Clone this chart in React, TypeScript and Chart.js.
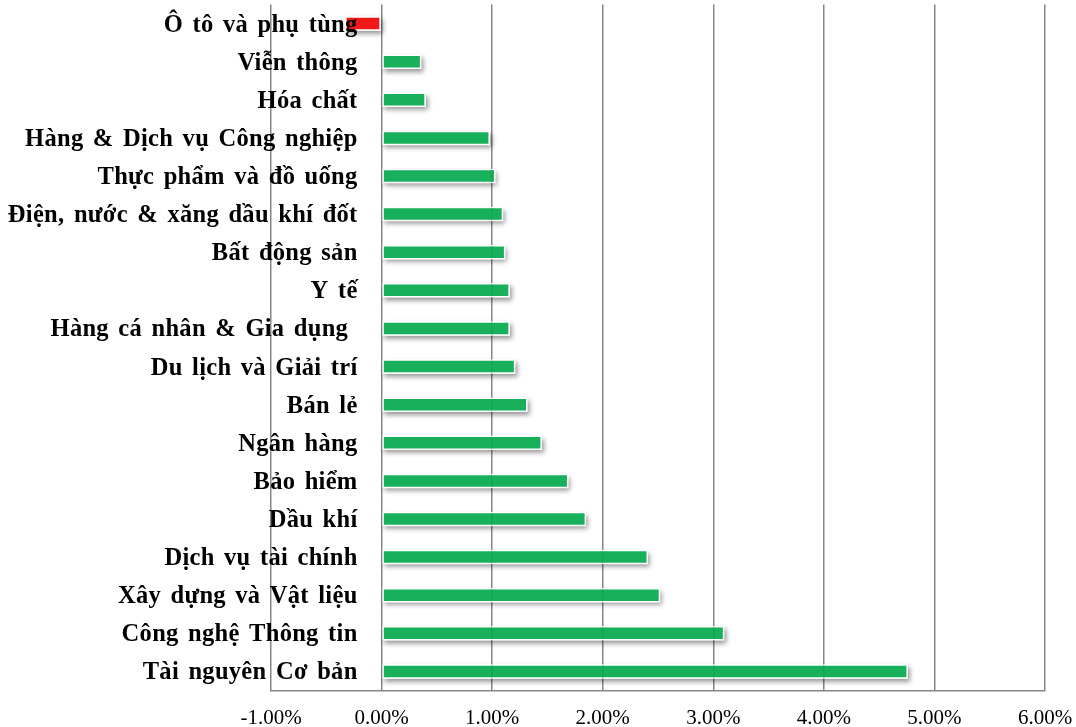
import React, { useEffect, useRef } from 'react';
import { Chart, registerables } from 'chart.js';

Chart.register(...registerables);

const categories: string[] = [
  'Ô tô và phụ tùng',
  'Viễn thông',
  'Hóa chất',
  'Hàng & Dịch vụ Công nghiệp',
  'Thực phẩm và đồ uống',
  'Điện, nước & xăng dầu khí đốt',
  'Bất động sản',
  'Y tế',
  'Hàng cá nhân & Gia dụng ',
  'Du lịch và Giải trí',
  'Bán lẻ',
  'Ngân hàng',
  'Bảo hiểm',
  'Dầu khí',
  'Dịch vụ tài chính',
  'Xây dựng và Vật liệu',
  'Công nghệ Thông tin',
  'Tài nguyên Cơ bản',
];

const changes: number[] = [
  -0.33, 0.36, 0.4, 0.98, 1.03, 1.1, 1.12, 1.16, 1.16, 1.21, 1.32, 1.45, 1.69, 1.85, 2.41, 2.52, 3.1, 4.76,
];

const xTickValues: number[] = [-1, 0, 1, 2, 3, 4, 5, 6];
const xTickLabels: string[] = ['-1.00%', '0.00%', '1.00%', '2.00%', '3.00%', '4.00%', '5.00%', '6.00%'];

const GREEN = 'rgba(8, 170, 80, 0.93)';
const RED = 'rgba(240, 12, 12, 0.95)';
const GRID = '#868686';
const SERIF = '"Liberation Serif", "Times New Roman", serif';

const shadowPlugin = {
  id: 'barShadow',
  beforeDatasetsDraw(chart: any) {
    const ctx = chart.ctx as CanvasRenderingContext2D;
    const meta = chart.getDatasetMeta(0);
    meta.data.forEach((el: any) => {
      const p = el.getProps(['x', 'y', 'base', 'height'], true);
      const left = Math.min(p.x, p.base);
      const right = Math.max(p.x, p.base);
      const top = p.y - p.height / 2;
      const w = right - left;
      const h = p.height;
      ctx.save();
      ctx.beginPath();
      ctx.rect(0, 0, chart.width, chart.height);
      ctx.rect(left, top, w, h);
      ctx.clip('evenodd');
      ctx.shadowColor = 'rgba(0,0,0,0.42)';
      ctx.shadowBlur = 5;
      ctx.shadowOffsetX = 2 + 5000;
      ctx.shadowOffsetY = 3;
      ctx.fillStyle = '#000';
      ctx.fillRect(left - 5000, top, w, h);
      ctx.restore();
    });
  },
};

const labelPlugin = {
  id: 'categoryLabels',
  afterDatasetsDraw(chart: any) {
    const ctx = chart.ctx as any;
    const xs = chart.scales.x;
    const ys = chart.scales.y;
    const xr = xs.getPixelForValue(0) - 24;
    ctx.save();
    ctx.font = `bold 24.5px ${SERIF}`;
    ctx.fillStyle = '#000';
    ctx.textAlign = 'right';
    ctx.textBaseline = 'alphabetic';
    ctx.letterSpacing = '0.3px';
    ctx.wordSpacing = '3px';
    categories.forEach((c, i) => {
      ctx.fillText(c, xr, ys.getPixelForValue(i) + 8);
    });
    ctx.restore();
  },
};

export default function App() {
  const ref = useRef<HTMLCanvasElement | null>(null);

  useEffect(() => {
    if (!ref.current) return;
    const chart = new Chart(ref.current, {
      type: 'bar',
      data: {
        labels: categories,
        datasets: [
          {
            data: changes,
            backgroundColor: changes.map((v) => (v < 0 ? RED : GREEN)),
            borderColor: 'rgba(255,255,255,0.95)',
            borderWidth: 1.5,
            borderSkipped: false,
            barPercentage: 0.38,
            categoryPercentage: 1,
          },
        ],
      },
      options: {
        indexAxis: 'y',
        responsive: false,
        animation: false,
        layout: { padding: { left: 271, right: 31, top: 4.5, bottom: 0 } },
        plugins: {
          legend: { display: false },
          tooltip: { enabled: false },
          title: { display: false },
        },
        scales: {
          x: {
            type: 'linear',
            min: -1,
            max: 6,
            afterBuildTicks: (scale: any) => {
              scale.ticks = xTickValues.map((v) => ({ value: v }));
            },
            afterFit: (scale: any) => {
              scale.height = 36.5;
              scale.paddingLeft = 0;
              scale.paddingRight = 0;
            },
            grid: { color: GRID, lineWidth: 1.5, drawTicks: false },
            border: { display: true, color: GRID, width: 1.5 },
            ticks: {
              padding: 15.5,
              color: '#000',
              font: { family: SERIF, size: 21 },
              maxRotation: 0,
              autoSkip: false,
              callback: (_v: any, i: number) => xTickLabels[i],
            },
          },
          y: {
            type: 'category',
            display: false,
          },
        },
      },
      plugins: [shadowPlugin, labelPlugin],
    });
    return () => chart.destroy();
  }, []);

  return (
    <div style={{ position: 'fixed', left: 0, top: 0, width: 1076, height: 727, background: '#fff' }}>
      <canvas ref={ref} width={1076} height={727} style={{ display: 'block' }} />
    </div>
  );
}
